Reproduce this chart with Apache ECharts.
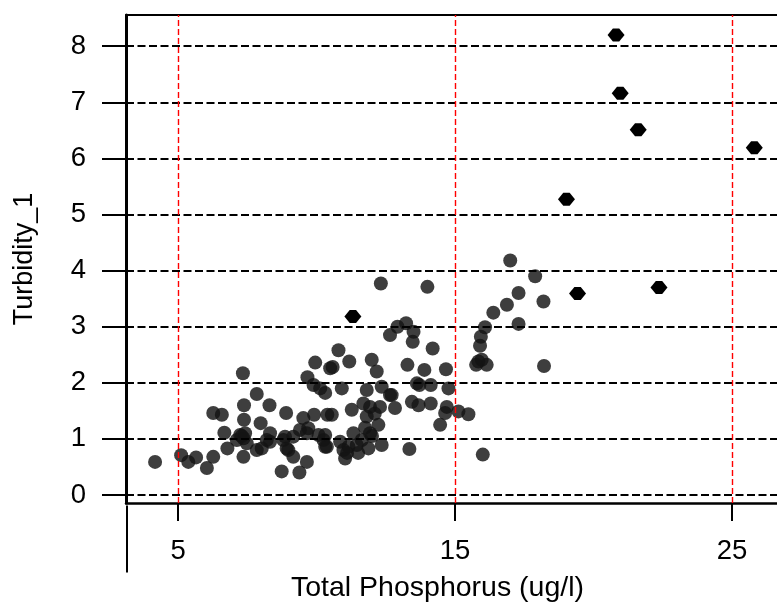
<!DOCTYPE html>
<html>
<head>
<meta charset="utf-8">
<script src="https://cdn.jsdelivr.net/npm/echarts@6/dist/echarts.min.js"></script>
<style>
html,body{margin:0;padding:0;background:#fff;}
#chart{width:777px;height:603px;}
</style>
</head>
<body>
<div id="chart"></div>
<script>
// Data
const xTickValues = [5, 15, 25];
const yTickValues = [0, 1, 2, 3, 4, 5, 6, 7, 8];
const redLineValues = [5, 15, 25];
const xName = 'Total Phosphorus (ug/l)';
const yName = 'Turbidity_1';

const circleTP = [
4.17,5.11,5.37,5.65,6.04,6.27,6.27,6.58,6.67,6.78,
7.34,7.24,7.38,7.38,7.36,7.48,7.36,7.12,7.30,7.42,
7.84,7.98,7.84,8.20,8.32,8.32,8.02,8.30,8.90,8.86,
8.80,8.92,8.98,9.16,9.16,8.74,9.38,9.65,9.52,9.91,
10.39,9.40,9.70,9.65,10.07,10.25,10.31,9.95,10.49,9.67,
9.89,10.13,10.31,
10.79,10.58,11.18,11.99,12.17,10.91,11.81,12.35,12.65,11.27,
10.55,11.69,11.93,12.29,12.83,12.23,11.81,11.93,11.33,10.31,
10.85,11.15,11.45,11.87,12.35,10.37,11.03,10.97,11.63,11.10,
11.50,12.00,12.10,11.75,12.32,12.65,12.92,13.23,13.50,13.47,
13.28,13.89,14.19,14.67,13.71,13.62,14.12,14.76,12.71,13.44,
13.68,14.12,14.70,14.64,15.12,15.48,14.46,13.35,14.00,
16.99,17.89,17.29,18.19,16.87,16.38,17.29,16.08,15.93,15.90,
15.84,15.96,16.14,15.76,18.21,16.00
];
const circleTurb = [
0.59,0.71,0.59,0.67,0.48,0.68,1.46,1.43,1.11,0.83,
2.17,1.07,1.60,1.34,0.68,0.92,1.01,0.98,1.05,1.10,
1.80,1.28,0.80,0.98,1.10,0.95,0.83,1.60,1.46,1.04,
0.98,0.83,0.80,0.68,1.04,0.42,0.40,0.59,1.37,1.43,
1.43,1.16,1.19,1.10,1.07,0.98,0.86,2.36,2.26,2.10,
1.96,1.90,1.82,
2.58,2.28,2.38,2.41,2.20,1.90,1.87,1.93,1.78,1.52,
1.43,1.63,1.57,1.57,1.55,1.25,1.40,1.10,1.10,1.07,
0.95,0.86,0.89,0.83,0.89,0.86,0.65,0.80,0.98,0.75,
0.75,1.05,1.45,1.20,3.77,2.85,3.00,3.06,2.91,2.73,
2.32,2.23,2.61,2.24,1.96,1.99,1.96,1.90,1.78,1.66,
1.60,1.63,1.57,1.46,1.49,1.44,1.25,0.82,3.71,
4.18,3.90,3.60,3.45,3.39,3.25,3.05,2.99,2.82,2.66,
2.38,2.41,2.32,2.32,2.30,0.72
];
const diamondTP = [20.81, 20.96, 21.61, 25.80, 19.02, 19.42, 22.36, 11.31];
const diamondTurb = [8.20, 7.16, 6.51, 6.19, 5.27, 3.59, 3.70, 3.18];

const xMin = 3.12, xMax = 26.62;
const yMin = -0.143, yMax = 8.556;

const circles = circleTP.map((v, i) => [v, circleTurb[i]]);
const diamonds = diamondTP.map((v, i) => [v, diamondTurb[i]]);

const FONT = 'Liberation Sans, Arial, sans-serif';
const chart = echarts.init(document.getElementById('chart'), null, {renderer: 'canvas'});

const option = {
  animation: false,
  backgroundColor: '#fff',
  grid: {left: 126, right: 0, top: 15, bottom: 100, containLabel: false, outerBoundsMode: 'none'},
  xAxis: [{
    type: 'value', min: xMin, max: xMax, position: 'bottom',
    name: xName, nameLocation: 'middle', nameGap: 71,
    nameTextStyle: {fontSize: 28.5, color: '#000', fontFamily: FONT, padding: [0, 28, 0, 0]},
    axisLine: {show: true, onZero: false, lineStyle: {color: '#000', width: 2.5}},
    axisTick: {show: true, customValues: xTickValues, length: 18, lineStyle: {color: '#000', width: 2}},
    axisLabel: {show: true, customValues: xTickValues, fontSize: 27.5, color: '#000', fontFamily: FONT, margin: 34},
    splitLine: {show: false}
  }, {
    type: 'value', min: xMin, max: xMax, position: 'top',
    axisLine: {show: true, onZero: false, lineStyle: {color: '#000', width: 2}},
    axisTick: {show: false}, axisLabel: {show: false}, splitLine: {show: false}
  }],
  yAxis: {
    type: 'value', min: yMin, max: yMax,
    name: yName, nameLocation: 'middle', nameGap: 88, nameRotate: 90,
    nameTextStyle: {fontSize: 27, color: '#000', fontFamily: FONT},
    axisLine: {show: true, onZero: false, lineStyle: {color: '#000', width: 3}},
    axisTick: {show: true, customValues: yTickValues, length: 24, lineStyle: {color: '#000', width: 2}},
    axisLabel: {show: true, customValues: yTickValues, fontSize: 27.5, color: '#000', fontFamily: FONT, margin: 40},
    splitLine: {show: false}
  },
  graphic: [{
    type: 'line', left: 124.5, top: 503,
    shape: {x1: 0, y1: 0, x2: 0, y2: 67},
    style: {stroke: '#000', lineWidth: 2}
  }],
  series: [{
    type: 'scatter',
    data: circles,
    symbol: 'circle',
    symbolSize: 14,
    itemStyle: {color: 'rgb(20,20,20)', opacity: 0.82},
    silent: true,
    markLine: {
      silent: true, symbol: 'none', label: {show: false}, animation: false,
      data: yTickValues.map(v => ({yAxis: v, lineStyle: {color: '#000', width: 2, type: [8, 3.5], opacity: 1}}))
        .concat(redLineValues.map(v => ({xAxis: v, lineStyle: {color: '#ff0000', width: 1.4, type: [6, 3], opacity: 1}})))
    },
    z: 3
  }, {
    type: 'scatter',
    data: diamonds,
    symbol: 'path://M0,6 L5,0 L11,0 L16,6 L11,12 L5,12 Z',
    symbolSize: [17, 13],
    itemStyle: {color: '#000', opacity: 1},
    silent: true,
    z: 4
  }]
};
chart.setOption(option);
</script>
</body>
</html>
